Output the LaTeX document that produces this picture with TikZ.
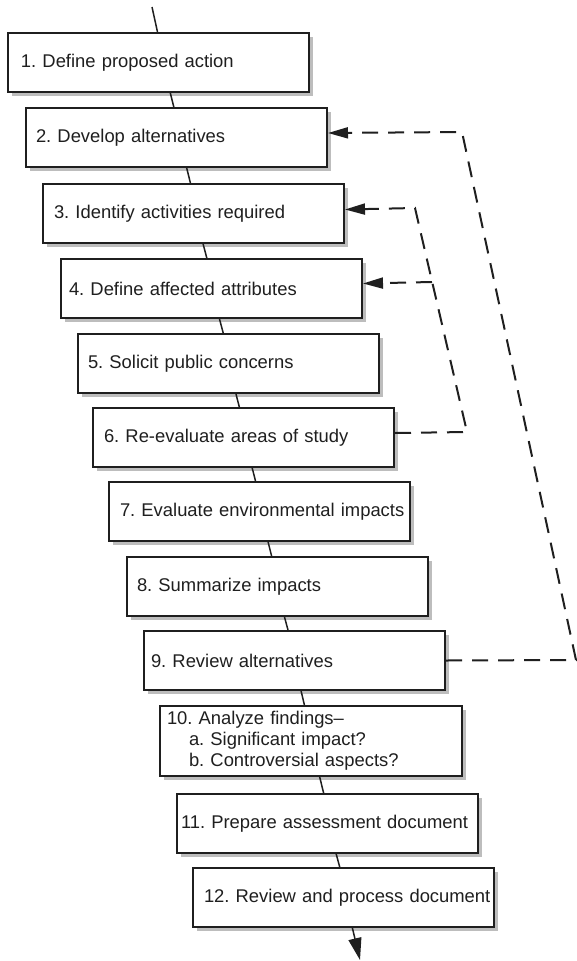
\documentclass[tikz,border=0pt]{standalone}
\usepackage{fontspec}
\setmainfont{Liberation Sans}
\usetikzlibrary{arrows.meta,shadows}

\definecolor{ink}{gray}{0.12}
\definecolor{shade}{gray}{0.74}

\newcommand{\boxsetup}{\frenchspacing\hyphenpenalty=10000\relax\parindent=0pt\relax}

\tikzset{
  stepbox/.style={draw=ink, line width=2pt, fill=white, rectangle,
    anchor=north west, minimum width=301pt, minimum height=59pt,
    text width=301pt, inner xsep=0pt, inner ysep=0pt, align=left, text=ink,
    font=\fontsize{18.4}{21}\selectfont,
    execute at begin node={\boxsetup\hspace*{#1}},
    drop shadow={shadow xshift=4pt, shadow yshift=-4pt, fill=shade, opacity=1}},
  link/.style={draw=ink, line width=1.5pt},
  feedback/.style={draw=ink, line width=2pt, dash pattern=on 16pt off 10pt},
  fbtip/.style={-{Triangle[length=20pt,width=11pt]}},
  endtip/.style={-{Triangle[length=22pt,width=13pt]}}
}

\begin{document}
\begin{tikzpicture}[x=1pt, y=-1pt]
  \useasboundingbox (0,0) rectangle (577,961);

  % the twelve steps, each one offset down and to the right
  \node[stepbox=13pt] (b1)  at (7,32)    {1. Define proposed action};
  \node[stepbox=10pt] (b2)  at (25,107)  {2. Develop alternatives};
  \node[stepbox=11pt] (b3)  at (42,183)  {3. Identify activities required};
  \node[stepbox=8pt]  (b4)  at (60,258)  {4. Define affected attributes};
  \node[stepbox=10pt] (b5)  at (77,333)  {5. Solicit public concerns};
  \node[stepbox=11pt] (b6)  at (92,407)  {6. Re-evaluate areas of study};
  \node[stepbox=11pt] (b7)  at (108,481) {7. Evaluate environmental impacts};
  \node[stepbox=10pt] (b8)  at (126,556) {8. Summarize impacts};
  \node[stepbox=7pt]  (b9)  at (143,630) {9. Review alternatives};
  \node[stepbox=7pt, minimum width=302pt, text width=302pt, minimum height=70pt] (b10) at (159,705)
    {10. Analyze findings–\\\hspace*{29pt}a. Significant impact?\\\hspace*{29pt}b. Controversial aspects?};
  \node[stepbox=4pt]  (b11) at (176,793) {11. Prepare assessment document};
  \node[stepbox=11pt] (b12) at (192,867) {12. Review and process document};

  % main flow: one slanted line broken by the boxes
  \coordinate (start) at (152,7);
  \coordinate (finish) at (360,960);
  \draw[link] (start) -- ([xshift=150.5pt]b1.north west);
  \draw[link] ([xshift=163.3pt]b1.south west) -- ([xshift=148.8pt]b2.north west);
  \draw[link] ([xshift=161.7pt]b2.south west) -- ([xshift=148.4pt]b3.north west);
  \draw[link] ([xshift=161.1pt]b3.south west) -- ([xshift=146.8pt]b4.north west);
  \draw[link] ([xshift=159.5pt]b4.south west) -- ([xshift=146.2pt]b5.north west);
  \draw[link] ([xshift=159.0pt]b5.south west) -- ([xshift=147.3pt]b6.north west);
  \draw[link] ([xshift=160.2pt]b6.south west) -- ([xshift=147.5pt]b7.north west);
  \draw[link] ([xshift=160.1pt]b7.south west) -- ([xshift=145.6pt]b8.north west);
  \draw[link] ([xshift=158.5pt]b8.south west) -- ([xshift=145.0pt]b9.north west);
  \draw[link] ([xshift=158.1pt]b9.south west) -- ([xshift=145.4pt]b10.north west);
  \draw[link] ([xshift=160.7pt]b10.south west) -- ([xshift=147.6pt]b11.north west);
  \draw[link] ([xshift=160.2pt]b11.south west) -- ([xshift=147.7pt]b12.north west);
  \draw[link, endtip] ([xshift=160.4pt]b12.south west) -- (finish);

  % feedback loops
  \coordinate (outerlow)  at (576,660);
  \coordinate (outerhigh) at (462,132);
  \coordinate (innerlow)  at (467,432);
  \coordinate (innerhigh) at (415,208);
  \coordinate (branch)    at (432,282);

  \draw[feedback, fbtip] (b9.east) -- (outerlow) -- (outerhigh) -- ([yshift=4.5pt]b2.east);
  \draw[feedback, fbtip] ([yshift=4.5pt]b6.east) -- (innerlow) -- (innerhigh) -- ([yshift=4pt]b3.east);
  \draw[feedback, fbtip] (branch) -- ([yshift=5pt]b4.east);
\end{tikzpicture}
\end{document}
